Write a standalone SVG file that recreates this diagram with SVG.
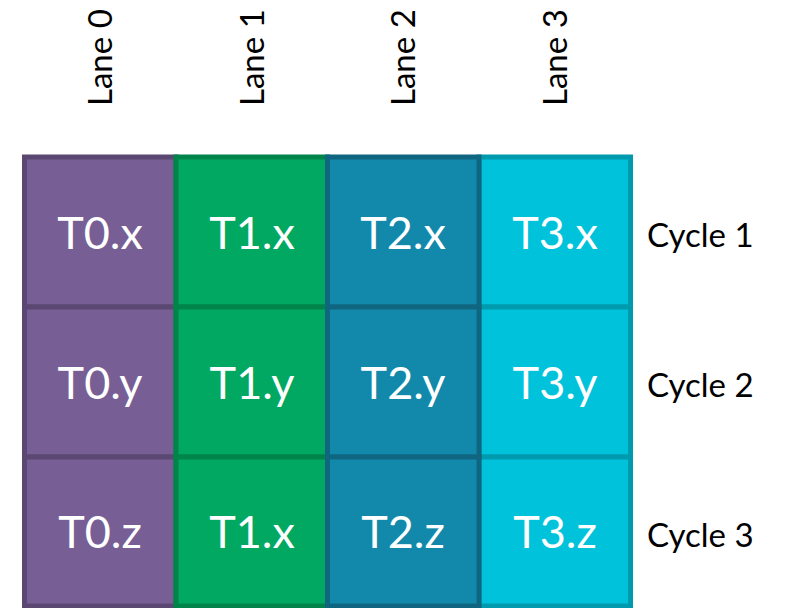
<svg xmlns="http://www.w3.org/2000/svg" width="787" height="608" viewBox="0 0 787 608">
  <style>
    .cell { stroke-width: 5; }
    .lane0 { fill: #775E95; stroke: #5A4872; }
    .lane1 { fill: #00A862; stroke: #00844A; }
    .lane2 { fill: #1289AA; stroke: #106680; }
    .lane3 { fill: #00C3DB; stroke: #009AAE; }
    .val { font-family: Lato, "Open Sans", sans-serif; font-size: 45px; fill: #FFFFFF; text-anchor: middle; }
    .lbl { font-family: Lato, "Open Sans", sans-serif; font-size: 33px; fill: #000000; }
  </style>

  <!-- lane headers, rotated to read bottom-to-top -->
  <g id="lane-headers">
    <text class="lbl" transform="translate(112,106) rotate(-90)">Lane 0</text>
    <text class="lbl" transform="translate(264,106) rotate(-90)">Lane 1</text>
    <text class="lbl" transform="translate(415,106) rotate(-90)">Lane 2</text>
    <text class="lbl" transform="translate(567,106) rotate(-90)">Lane 3</text>
  </g>

  <!-- lane 0 -->
  <g id="lane-0">
    <g id="t0x"><rect class="cell lane0" x="24.5" y="157" width="151.5" height="150"/><text class="val" x="100" y="249">T0.x</text></g>
    <g id="t0y"><rect class="cell lane0" x="24.5" y="307" width="151.5" height="150"/><text class="val" x="100" y="399">T0.y</text></g>
    <g id="t0z"><rect class="cell lane0" x="24.5" y="457" width="151.5" height="149"/><text class="val" x="100" y="548">T0.z</text></g>
  </g>

  <!-- lane 1 -->
  <g id="lane-1">
    <g id="t1x"><rect class="cell lane1" x="176" y="157" width="151.5" height="150"/><text class="val" x="252" y="249">T1.x</text></g>
    <g id="t1y"><rect class="cell lane1" x="176" y="307" width="151.5" height="150"/><text class="val" x="252" y="399">T1.y</text></g>
    <g id="t1x-2"><rect class="cell lane1" x="176" y="457" width="151.5" height="149"/><text class="val" x="252" y="548">T1.x</text></g>
  </g>

  <!-- lane 3 (drawn before lane 2 so lane 2's border sits on top) -->
  <g id="lane-3">
    <g id="t3x"><rect class="cell lane3" x="479" y="157" width="151.5" height="150"/><text class="val" x="555" y="249">T3.x</text></g>
    <g id="t3y"><rect class="cell lane3" x="479" y="307" width="151.5" height="150"/><text class="val" x="555" y="399">T3.y</text></g>
    <g id="t3z"><rect class="cell lane3" x="479" y="457" width="151.5" height="149"/><text class="val" x="555" y="548">T3.z</text></g>
  </g>

  <!-- lane 2 -->
  <g id="lane-2">
    <g id="t2x"><rect class="cell lane2" x="327.5" y="157" width="151.5" height="150"/><text class="val" x="403" y="249">T2.x</text></g>
    <g id="t2y"><rect class="cell lane2" x="327.5" y="307" width="151.5" height="150"/><text class="val" x="403" y="399">T2.y</text></g>
    <g id="t2z"><rect class="cell lane2" x="327.5" y="457" width="151.5" height="149"/><text class="val" x="403" y="548">T2.z</text></g>
  </g>

  <!-- cycle labels -->
  <g id="cycle-labels">
    <text class="lbl" x="647" y="247">Cycle 1</text>
    <text class="lbl" x="647" y="397">Cycle 2</text>
    <text class="lbl" x="647" y="547">Cycle 3</text>
  </g>

  <g id="connectors"/>
</svg>
